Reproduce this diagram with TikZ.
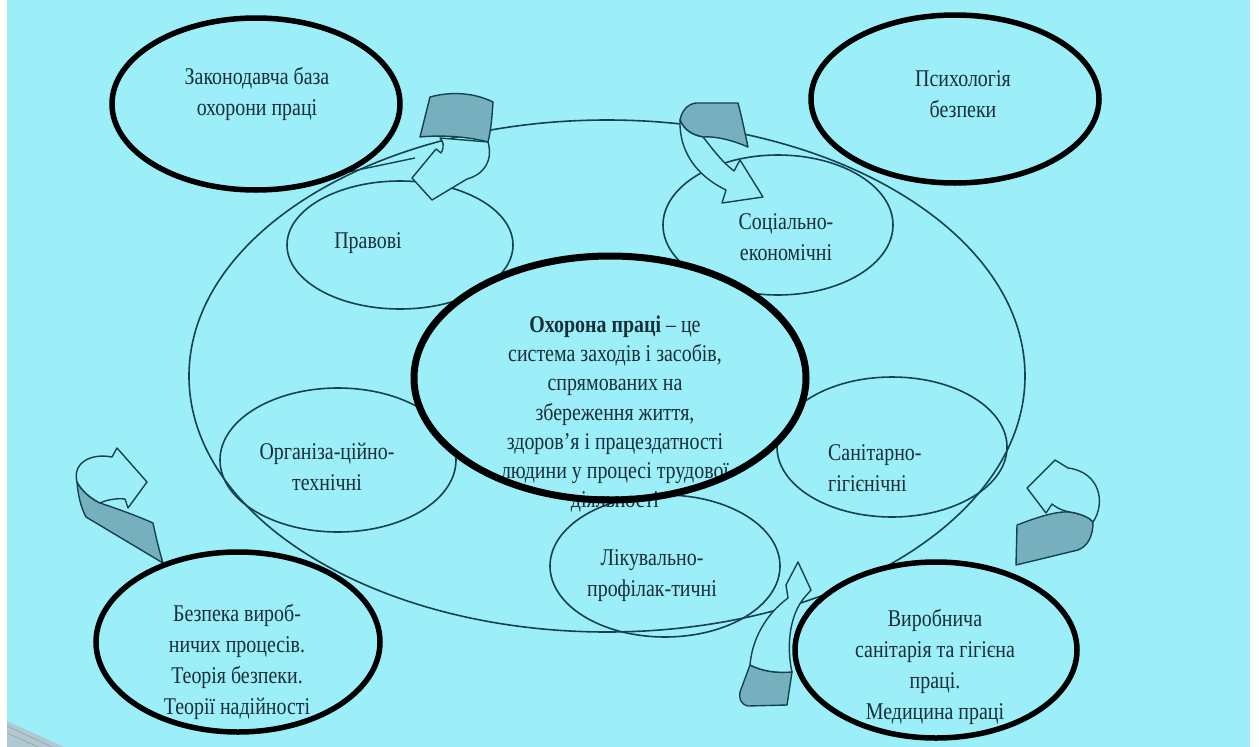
\documentclass[tikz,border=0pt]{standalone}
\usepackage{fontspec}
\setmainfont{Liberation Serif}[FakeStretch=0.83]
\usetikzlibrary{shapes.geometric}
\definecolor{bgc}{RGB}{156,238,249}
\definecolor{edgec}{RGB}{22,66,78}
\definecolor{txtc}{RGB}{24,46,56}
\definecolor{ribbon}{RGB}{118,176,190}
\definecolor{cornerg}{RGB}{175,200,210}
\tikzset{
  thinell/.style={ellipse, draw=edgec, line width=1.6pt, inner sep=0pt},
  thickell/.style={ellipse, draw=black, line width=5.5pt, inner sep=0pt},
  ellbg/.style={ellipse, fill=bgc, inner sep=0pt},
  lbl/.style={text=txtc, align=center, font=\fontsize{24}{31}\selectfont, inner sep=0pt},
  ribback/.style={fill=ribbon, draw=edgec, line width=1.4pt, line join=round},
  ribfront/.style={fill=bgc, draw=edgec, line width=1.4pt, line join=round},
  ribline/.style={draw=edgec, line width=1.4pt},
}
\begin{document}
\begin{tikzpicture}[x=1pt,y=-1pt]
\useasboundingbox (0,0) rectangle (1259,747);
% background
\fill[white] (0,0) rectangle (1259,747);
\fill[bgc] (7,0) rectangle (1250,747);
\fill[cornerg] (7,721) -- (64,747) -- (7,747) -- cycle;
\draw[gray!70, line width=0.8pt] (7,726) -- (52,747) (7,733) -- (38,747);

% large surrounding ellipse
\node[thinell, minimum width=836pt, minimum height=512pt] (big) at (607,376) {};

% inner ellipses
\node[thinell, minimum width=226pt, minimum height=128pt] (prav) at (400,245) {};
\node[thinell, minimum width=230pt, minimum height=140pt] (soc) at (778,225) {};
\node[thinell, minimum width=236pt, minimum height=144pt] (org) at (338,460) {};
\node[thinell, minimum width=230pt, minimum height=140pt] (san) at (892,447) {};
\node[thinell, minimum width=230pt, minimum height=142pt] (lik) at (665,566) {};

\node[lbl] (prav-t) at (368,243) {Правові};
\node[lbl] (soc-t) at (786,237) {Соціально-\\економічні};
\node[lbl] (org-t) at (327,467) {Організа-ційно-\\технічні};
\node[lbl, align=left, anchor=west] (san-t) at (828,468) {Санітарно-\\гігієнічні};
\node[lbl] (lik-t) at (652,576) {Лікувально-\\профілак-тичні};

% central ellipse
\node[ellbg, minimum width=392pt, minimum height=244pt] (core-bg) at (610,378) {};
\node[lbl, font=\fontsize{24}{29.3}\selectfont] (core-t) at (615,414)
  {\textbf{Охорона праці} – це\\система заходів і засобів,\\спрямованих на\\збереження життя,\\здоров’я і працездатності\\людини у процесі трудової\\діяльності};
\node[thickell, line width=7pt, minimum width=392pt, minimum height=244pt] (core) at (610,378) {};

% ribbon arrows
% top-left
\draw[ribline] (348,172) -- (415,158);
\draw[ribback] (430,97) .. controls (452,91) and (475,93) .. (493,102)
  .. controls (492,117) and (491,130) .. (488,142)
  .. controls (465,136) and (440,135) .. (420,137) -- cycle;
\draw[ribfront] (440,138) -- (488,142) .. controls (493,160) and (485,174) .. (467,179)
  -- (432,200) -- (412,178) -- (436,149) -- (441,153)
  .. controls (445,146) and (443,141) .. (440,138) -- cycle;
% top-right
\draw[ribback] (680,120) .. controls (682,110) and (688,104) .. (696,103) -- (738,103)
  .. controls (742,118) and (745,133) .. (748,147)
  .. controls (732,140) and (715,136) .. (703,137)
  .. controls (692,135) and (684,130) .. (680,120) -- cycle;
\draw[ribfront] (680,120) .. controls (679,150) and (695,175) .. (726,190)
  -- (722,203) -- (763,197) -- (740,160) -- (734,171)
  .. controls (720,160) and (712,148) .. (703,137)
  .. controls (692,135) and (684,130) .. (680,120) -- cycle;
% right
\draw[ribback] (1017,525) .. controls (1038,517) and (1056,511) .. (1070,512)
  .. controls (1082,514) and (1090,518) .. (1093,522)
  .. controls (1093,536) and (1088,546) .. (1078,550) -- (1016,565) -- cycle;
\draw[ribfront] (1093,522) .. controls (1106,503) and (1100,472) .. (1068,468)
  -- (1055,460) -- (1027,488) -- (1046,513) -- (1052,504)
  .. controls (1058,509) and (1064,511) .. (1070,512)
  .. controls (1082,514) and (1090,518) .. (1093,522) -- cycle;
% left
\draw[ribback] (77,482) .. controls (78,495) and (81,508) .. (86,517) -- (163,563)
  .. controls (159,550) and (156,537) .. (153,523)
  .. controls (135,515) and (115,508) .. (100,503)
  .. controls (90,498) and (82,491) .. (77,482) -- cycle;
\draw[ribfront] (77,482) .. controls (72,462) and (92,453) .. (112,457)
  -- (117,448) -- (147,482) -- (128,508) -- (125,499)
  .. controls (116,498) and (106,500) .. (100,503)
  .. controls (90,498) and (82,491) .. (77,482) -- cycle;
% bottom
\draw[ribback] (750,665) .. controls (764,672) and (778,673) .. (792,672) -- (787,705)
  -- (748,706) .. controls (740,704) and (739,698) .. (740,692) -- cycle;
\draw[ribfront] (750,665) .. controls (752,640) and (765,615) .. (788,598)
  -- (786,585) -- (798,562) -- (811,590) -- (804,598)
  .. controls (790,615) and (786,645) .. (792,672)
  .. controls (778,673) and (764,672) .. (750,665) -- cycle;

% corner ellipses
\node[thickell, fill=bgc, minimum width=288pt, minimum height=172pt] (tl) at (256,104) {};
\node[lbl] (tl-t) at (257,94) {Законодавча база\\охорони праці};
\node[thickell, fill=bgc, minimum width=288pt, minimum height=168pt] (tr) at (955,99) {};
\node[lbl] (tr-t) at (963,94) {Психологія\\безпеки};
\node[ellbg, minimum width=284pt, minimum height=180pt] (bl-bg) at (238,642) {};
\node[lbl] (bl-t) at (237,662) {Безпека вироб-\\ничих процесів.\\Теорія безпеки.\\Теорії надійності};
\node[thickell, minimum width=284pt, minimum height=180pt] (bl) at (238,642) {};
\node[ellbg, minimum width=282pt, minimum height=176pt] (br-bg) at (936,650) {};
\node[lbl] (br-t) at (935,667) {Виробнича\\санітарія та гігієна\\праці.\\Медицина праці};
\node[thickell, minimum width=282pt, minimum height=176pt] (br) at (936,650) {};
\end{tikzpicture}
\end{document}
